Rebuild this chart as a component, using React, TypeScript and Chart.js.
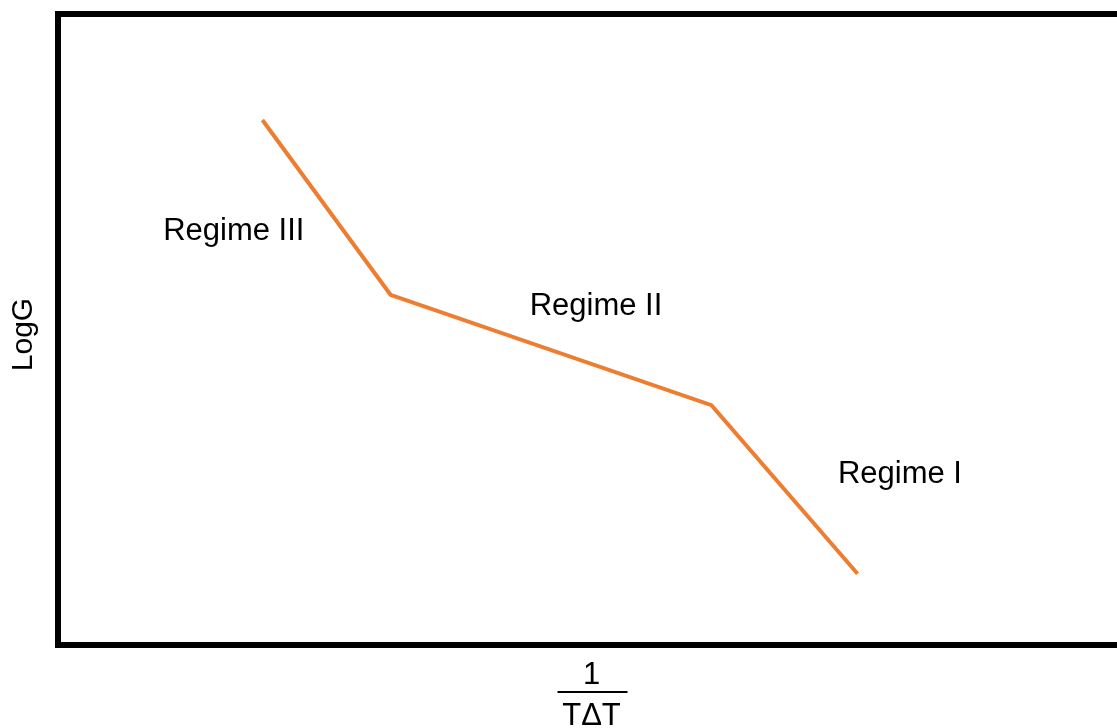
import React, { useEffect, useRef } from "react";
import { Chart, registerables } from "chart.js";

Chart.register(...registerables);

// Data (arbitrary units)
const invTdT = [1.93, 3.14, 6.17, 7.55];
const logG = [8.32, 5.55, 3.8, 1.13];

const regimeNames = ["Regime III", "Regime II", "Regime I"];
const regimeX = [1.66, 5.08, 7.95];
const regimeY = [6.56, 5.37, 2.71];

const yTitle = "LogG";
const xTitleNumerator = "1";
const xTitleDenominator = "TΔT";

const FONT = "'Liberation Sans', Arial, sans-serif";

const decorPlugin = {
  id: "decor",
  afterDraw(chart: any) {
    const { ctx, chartArea, scales } = chart;
    const { left, top, bottom, right } = chartArea;
    ctx.save();
    // frame (right edge lies beyond the canvas)
    ctx.strokeStyle = "#000";
    ctx.lineWidth = 6;
    ctx.lineJoin = "miter";
    ctx.strokeRect(left, top, right + 20 - left, bottom - top);

    // regime labels
    ctx.fillStyle = "#000";
    ctx.font = `31px ${FONT}`;
    ctx.textAlign = "center";
    ctx.textBaseline = "middle";
    regimeNames.forEach((name, i) => {
      const px = scales.x.getPixelForValue(regimeX[i]);
      const py = scales.y.getPixelForValue(regimeY[i]);
      ctx.fillText(name, px, py);
    });

    // y axis title
    ctx.save();
    ctx.font = `30px ${FONT}`;
    ctx.translate(left - 34, (top + bottom) / 2 + 5);
    ctx.rotate(-Math.PI / 2);
    ctx.fillText(yTitle, 0, 0);
    ctx.restore();

    // x axis title as a fraction
    const cx = (left + right) / 2 + 4;
    ctx.font = `31px ${FONT}`;
    ctx.fillText(xTitleNumerator, cx, bottom + 30);
    ctx.fillRect(cx - 34, bottom + 46, 70, 2);
    ctx.fillText(xTitleDenominator, cx, bottom + 71);
    ctx.restore();
  },
};

export default function App() {
  const ref = useRef<HTMLCanvasElement>(null);
  useEffect(() => {
    if (!ref.current) return;
    const chart = new Chart(ref.current, {
      type: "line",
      data: {
        datasets: [
          {
            data: invTdT.map((x, i) => ({ x, y: logG[i] })),
            borderColor: "#ED7D31",
            borderWidth: 4,
            pointRadius: 0,
            tension: 0,
            fill: false,
          },
        ],
      },
      options: {
        animation: false,
        responsive: false,
        devicePixelRatio: 1,
        layout: { padding: { left: 58, top: 14, right: 0, bottom: 83 } },
        plugins: { legend: { display: false }, tooltip: { enabled: false } },
        scales: {
          x: { type: "linear", min: 0, max: 10, display: false },
          y: { type: "linear", min: 0, max: 10, display: false },
        },
      },
      plugins: [decorPlugin],
    });
    return () => chart.destroy();
  }, []);
  return (
    <div style={{ position: "fixed", left: 0, top: 0, background: "#fff" }}>
      <canvas ref={ref} width={1117} height={728} />
    </div>
  );
}
